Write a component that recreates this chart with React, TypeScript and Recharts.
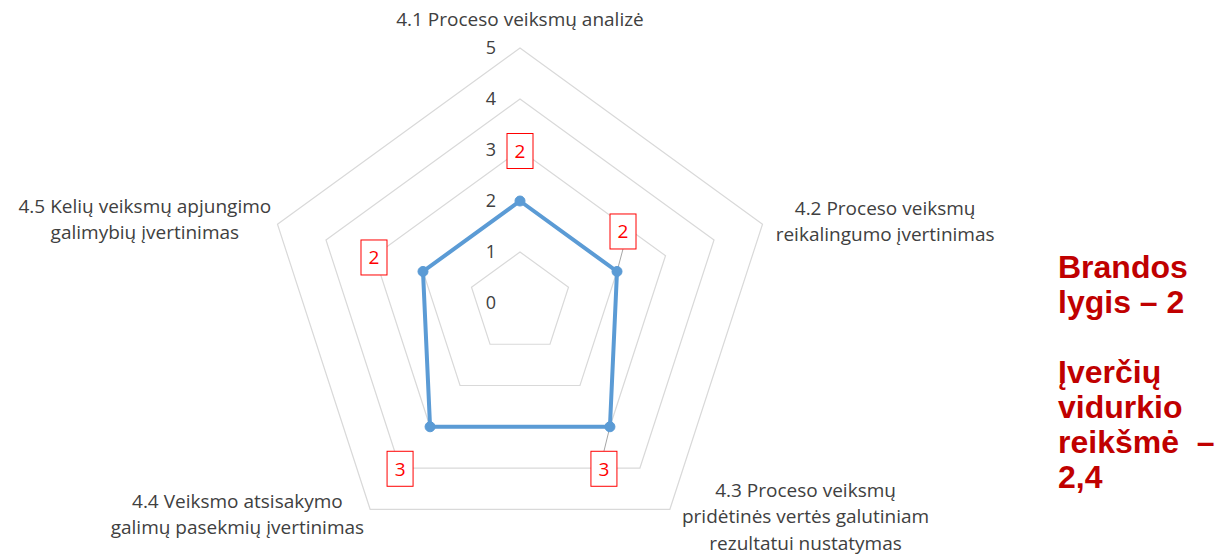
import * as React from "react";
import {
  RadarChart,
  Radar,
  PolarGrid,
  PolarAngleAxis,
  PolarRadiusAxis,
} from "recharts";

const categories = [
  "4.1 Proceso veiksmų analizė",
  "4.2 Proceso veiksmų reikalingumo įvertinimas",
  "4.3 Proceso veiksmų pridėtinės vertės galutiniam rezultatui nustatymas",
  "4.4 Veiksmo atsisakymo galimų pasekmių įvertinimas",
  "4.5 Kelių veiksmų apjungimo galimybių įvertinimas",
];

const categoryLines = [
  ["4.1 Proceso veiksmų analizė"],
  ["4.2 Proceso veiksmų", "reikalingumo įvertinimas"],
  ["4.3 Proceso veiksmų", "pridėtinės vertės galutiniam", "rezultatui nustatymas"],
  ["4.4 Veiksmo atsisakymo", "galimų pasekmių įvertinimas"],
  ["4.5 Kelių veiksmų apjungimo", "galimybių įvertinimas"],
];

const scores = [2, 2, 3, 3, 2];

const radiusTicks = [0, 1, 2, 3, 4, 5];

const summaryLines = [
  "Brandos",
  "lygis – 2",
  "",
  "Įverčių",
  "vidurkio",
  "reikšmė  –",
  "2,4",
];

// placement of the category captions relative to the angle-axis tick point
const LABEL_OFFSETS = [
  { dx: 0, dy: -14 },
  { dx: 115, dy: -7 },
  { dx: 131, dy: -19 },
  { dx: -128, dy: -8 },
  { dx: -125, dy: -9 },
];

// placement of the boxed value labels relative to each point
const VALUE_BOX_OFFSETS = [
  { dx: 0, dy: -50, leader: false },
  { dx: 6, dy: -40, leader: true },
  { dx: -6, dy: 42, leader: true },
  { dx: -30, dy: 42, leader: false },
  { dx: -49, dy: -14, leader: false },
];

const FONT = "'Open Sans', sans-serif";
const BLUE = "#5B9BD5";

const data = categories.map((c, i) => ({ axis: c, score: scores[i] }));

function AngleTick(props: any) {
  const { x, y, index } = props;
  const lines = categoryLines[index] || [];
  const off = LABEL_OFFSETS[index] || { dx: 0, dy: 0 };
  return (
    <text
      x={x + off.dx}
      y={y + off.dy}
      textAnchor="middle"
      fill="#404040"
      fontSize={19}
      fontFamily={FONT}
    >
      {lines.map((l, i) => (
        <tspan key={i} x={x + off.dx} dy={i === 0 ? 0 : 26.5}>
          {l}
        </tspan>
      ))}
    </text>
  );
}

function RadiusTick(props: any) {
  const { x, y, payload } = props;
  return (
    <text
      x={x - 29}
      y={y + 6}
      textAnchor="middle"
      fill="#404040"
      fontSize={18}
      fontFamily={FONT}
    >
      {payload.value}
    </text>
  );
}

function ValueDot(props: any) {
  const { cx, cy, index, payload, value } = props;
  const off = VALUE_BOX_OFFSETS[index] || { dx: 0, dy: 0, leader: false };
  const bx = cx + off.dx;
  const by = cy + off.dy;
  const w = 26;
  const h = 35;
  const edgeY = off.dy < 0 ? by + h / 2 : by - h / 2;
  let v: any = value;
  if (Array.isArray(v)) v = v[1];
  if (v == null && payload) v = payload.score ?? payload.value ?? payload.payload?.score;
  return (
    <g key={`dot-${index}`}>
      {off.leader && (
        <line x1={bx} y1={edgeY} x2={cx} y2={cy} stroke="#a6a6a6" strokeWidth={1} />
      )}
      <circle cx={cx} cy={cy} r={5} fill={BLUE} stroke={BLUE} />
      <rect
        x={bx - w / 2}
        y={by - h / 2}
        width={w}
        height={h}
        fill="#ffffff"
        stroke="#ff0000"
        strokeWidth={1}
      />
      <text
        x={bx}
        y={by + 7}
        textAnchor="middle"
        fill="#ff0000"
        fontSize={19}
        fontFamily={FONT}
      >
        {String(v ?? "")}
      </text>
    </g>
  );
}

export default function App() {
  return (
    <div
      style={{
        position: "absolute",
        left: 0,
        top: 0,
        width: 1229,
        height: 555,
        background: "#ffffff",
        overflow: "hidden",
      }}
    >
      <RadarChart
        width={1229}
        height={555}
        data={data}
        cx={520}
        cy={303}
        outerRadius={255}
        margin={{ top: 0, right: 0, bottom: 0, left: 0 }}
      >
        <PolarGrid gridType="polygon" radialLines={false} stroke="#d9d9d9" strokeWidth={1.2} />
        <PolarAngleAxis
          dataKey="axis"
          tick={<AngleTick />}
          tickLine={false}
          axisLine={false}
        />
        <PolarRadiusAxis
          angle={90}
          domain={[0, 5]}
          ticks={radiusTicks as any}
          tickCount={6}
          axisLine={false}
          tick={<RadiusTick />}
        />
        <Radar
          dataKey="score"
          stroke={BLUE}
          strokeWidth={4}
          fill="none"
          fillOpacity={0}
          dot={(p: any) => <ValueDot {...p} />}
          isAnimationActive={false}
        />
      </RadarChart>
      <div
        style={{
          position: "absolute",
          left: 1058,
          top: 250,
          fontFamily: "'Liberation Sans', Arial, sans-serif",
          fontWeight: "bold",
          fontSize: 32,
          lineHeight: "35px",
          color: "#C00000",
          whiteSpace: "pre",
        }}
      >
        {summaryLines.map((l, i) => (
          <div key={i} style={{ height: 35 }}>
            {l}
          </div>
        ))}
      </div>
    </div>
  );
}
